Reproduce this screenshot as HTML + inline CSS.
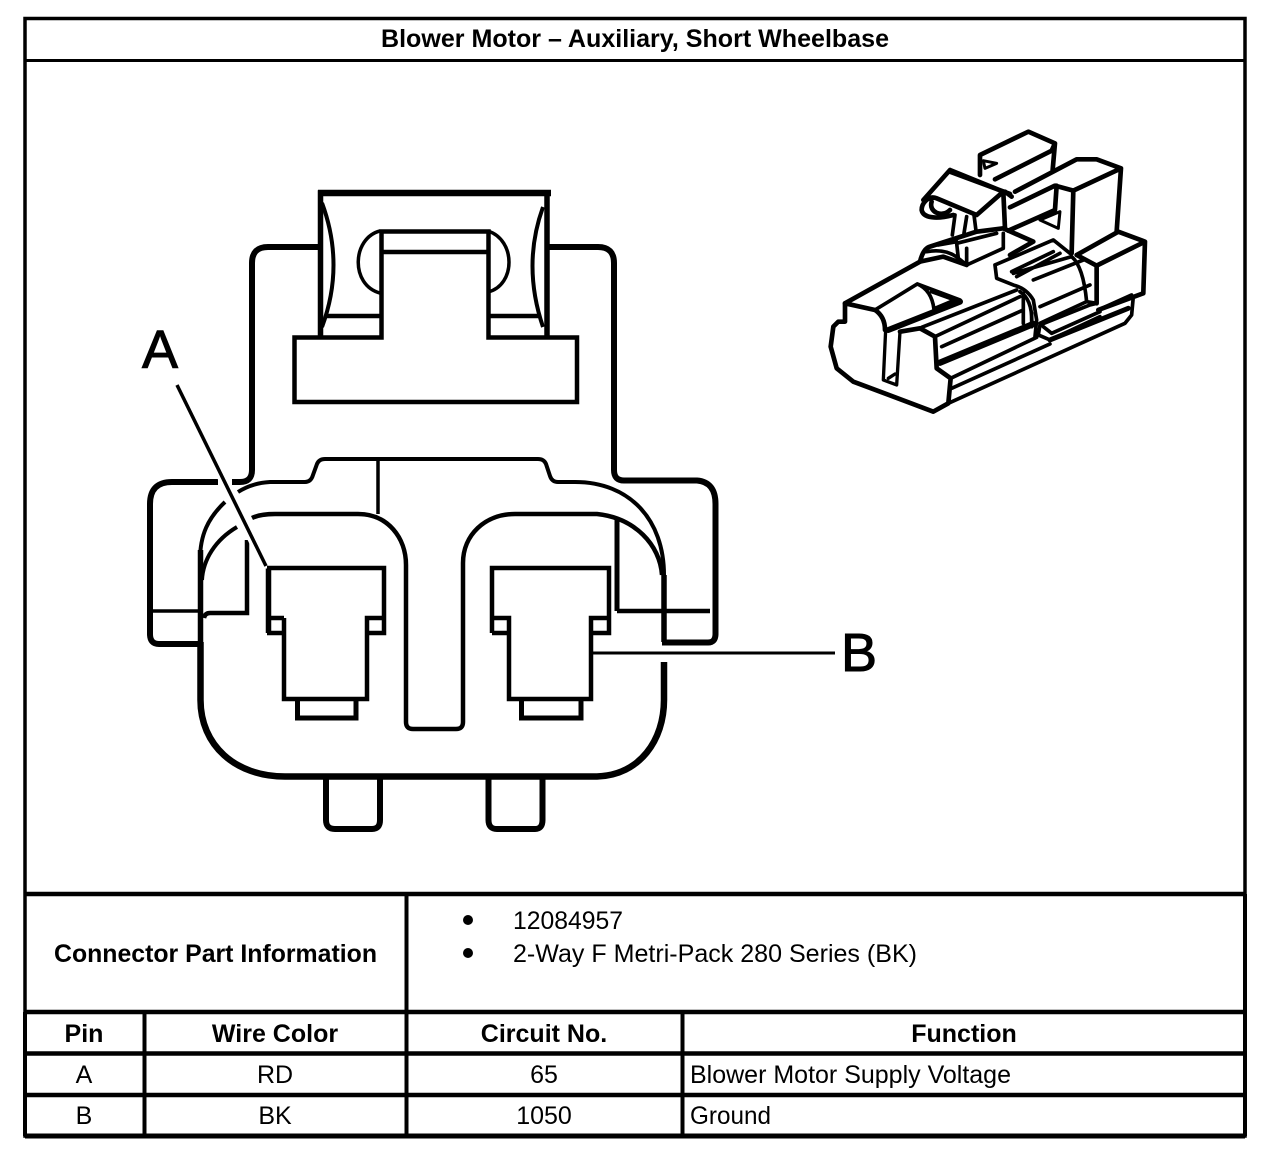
<!DOCTYPE html>
<html><head><meta charset="utf-8"><style>
html,body{margin:0;padding:0;background:#fff}
svg{display:block}
text{font-family:"Liberation Sans",sans-serif;fill:#000}
.b{font-weight:bold}
.m{text-anchor:middle}
</style></head><body>
<svg width="1280" height="1162" viewBox="0 0 1280 1162" xmlns="http://www.w3.org/2000/svg">
<rect width="1280" height="1162" fill="#fff"/>
<g fill="none" stroke="#000">
<!-- frame -->
<path d="M25 1136V18.500H1245V1136Z" stroke-width="3.500"/>
<path d="M25 60.500H1245" stroke-width="3"/>
<path d="M25 894H1245" stroke-width="4.500"/>
<path d="M25 1012H1245M25 1053.500H1245M25 1095H1245" stroke-width="4.500"/>
<path d="M25 1136H1245" stroke-width="5"/>
<path d="M25 1012V1136M1245 894V1136" stroke-width="4"/>
<path d="M406.500 894V1136M144.500 1012V1136M682.500 1012V1136" stroke-width="4"/>

<!-- top tab -->
<path d="M320.500 337V193H547V337" stroke-width="5.500"/>
<path d="M318 193H551" stroke-width="6.500"/>
<path d="M322 203Q345 265 322 327" stroke-width="4"/>
<path d="M543 207Q522 265 543 327" stroke-width="4"/>
<path d="M294.500 337.500H381.500V231.500H488.500V337.500H577V402H294.500Z" stroke-width="4.500"/>
<path d="M381 252H488" stroke-width="4.500"/>
<path d="M380 231C352 238 350 285 380 293" stroke-width="3.500"/>
<path d="M488 231C516 240 516 285 488 292" stroke-width="3.500"/>
<path d="M326 316H381M488 316H541" stroke-width="4.500"/>

<!-- shoulders -->
<path d="M320 247H268Q252 247 252 263V470Q252 482 240 482H232" stroke-width="6"/>
<path d="M218 482H172Q150 482 150 504V634Q150 644 159 644H200" stroke-width="6"/>
<path d="M152 611H200" stroke-width="3.500"/>
<path d="M547 247H598Q614 247 614 263V470Q614 480.500 624 480.500H697Q715.500 482 715.500 504V634Q715.500 642.500 708 642.500H662" stroke-width="6"/>
<path d="M617 611H710" stroke-width="4.500"/>
<path d="M617 518V611" stroke-width="5"/>

<!-- body -->
<path d="M200.500 642V700C200.500 745 235 776.500 285 776.500H597C640 775 664 740 664 700V662" stroke-width="6.500"/>
<path d="M200.500 642V550" stroke-width="5.500"/>
<path d="M664 642V575" stroke-width="5.500"/>
<path d="M238 492Q252 483 270 482H305Q311 482 313 475L317 464Q319 459 325 459H538Q544 459 546 464L550 476Q552 482 558 482H575C630 482 664 520 664 575" stroke-width="4"/>
<path d="M225 502C208 518 200 535 200 560" stroke-width="4"/>
<path d="M237 527C215 540 203 560 202 580" stroke-width="4"/>
<path d="M252 518Q260 514 275 514H358C388 514 406 538 406 565V722Q406 729 413 729H456Q463 729 463 722V563C463 535 485 514 515 514H597C635 518 660 545 662 575" stroke-width="4.500"/>
<path d="M378 459V514" stroke-width="3.500"/>
<path d="M247 540V613H210Q205 613 204 618" stroke-width="4.500"/>

<!-- pin A -->
<path d="M268.500 633V568.500" stroke-width="5.500"/>
<path d="M267 568H384V633H367V618H384M267 618H284M267 633H284M284 618V699H367V633" stroke-width="4.500"/>
<path d="M297.500 699V718H356V699" stroke-width="5"/>
<!-- pin B -->
<path d="M492 633V568H609V633H591V618H609M492 618H509V699H591V618M492 633H509" stroke-width="4.500"/>
<path d="M521.500 699V718H581V699" stroke-width="5"/>

<!-- lower tabs -->
<path d="M326 778V820Q326 829 335 829H372Q380 829 380 820V778" stroke-width="6"/>
<path d="M488.500 778V820Q488.500 829 497 829H535Q542.500 829 542.500 820V778" stroke-width="6"/>

<!-- leaders -->
<path d="M177 385L266 566" stroke="#fff" stroke-width="10"/>
<path d="M177 385L266 566" stroke-width="3.500"/>
<path d="M591 653H835" stroke-width="3"/>

<!-- 3D view -->
<g transform="translate(820 120) scale(.3333)" stroke-width="14" stroke-linejoin="round" stroke-linecap="round">
<path d="M480 165V105L625 35L705 70L698 150M525 178L695 92L705 70"/>
<path d="M490 122L530 130L495 145Z" stroke-width="9"/>
<path d="M585 215L770 118H830L903 145L890 335M760 212L903 145M705 197L760 212L755 400M570 262L705 197M710 197L705 270L565 332"/>
<path d="M660 300L720 275L715 325Z" stroke-width="9"/>
<path d="M770 405L895 335L975 365L970 520L835 570M770 405L830 437L975 365M830 437V550"/>
<path d="M390 150L550 215L470 285L350 235C325 225 305 250 305 270C310 295 350 298 400 285M390 150L310 240M335 245C325 275 365 295 390 270M550 215L555 325M555 215L575 230M390 155L570 222"/>
<path d="M405 285L397 345M440 290L432 340M462 285L468 332" stroke-width="11"/>
<path d="M300 425Q310 385 330 380L470 335L550 325L640 365L570 405"/>
<path d="M320 395C350 390 385 390 415 415L440 435L550 385V340M410 370L530 340M410 370L415 415M440 385V430M355 375L410 365" stroke-width="11"/>
<path d="M75 550L300 425M300 425L370 410L440 435"/>
<path d="M165 570L292 492L420 540M292 492Q335 510 342 568M335 515L405 540L345 565" stroke-width="11"/>
<path d="M205 630L420 545" stroke-width="18"/>
<path d="M75 550V605H55L40 620L32 680L50 745L100 785L340 875L385 850L392 775L350 745L345 650L300 625L240 635M75 550L165 570Q195 590 195 630"/>
<path d="M197 630L190 780L230 795L240 635M205 775L225 762" stroke-width="10"/>
<path d="M305 622L590 510M345 650L600 530M365 680L610 570M610 520V610M635 620V580" stroke-width="11"/>
<path d="M360 728L640 612" stroke-width="19"/>
<path d="M392 775L650 652M395 805L690 672M385 850L915 610L935 585L940 530M835 570L935 525" stroke-width="11"/>
<path d="M690 660L925 565" stroke-width="15"/>
<path d="M525 435L700 360L750 400M525 435L530 475L580 495Q620 505 640 540L650 600L645 650M580 460L755 410Q790 440 800 545M575 455L700 395M590 470L720 400M640 480L790 420M660 560L810 495M600 515Q640 540 635 620M660 610L800 545L830 550" stroke-width="11"/>
<path d="M660 615L810 555L830 550M660 615L655 645L690 660L840 590M670 620L695 640L840 575" stroke-width="11"/>
</g>
</g>

<!-- labels -->
<text x="160" y="368" class="m" font-size="54" stroke="#000" stroke-width="1">A</text>
<text x="859" y="671" class="m" font-size="54" stroke="#000" stroke-width="1">B</text>

<text x="381" y="47" class="b" font-size="25" textLength="508" lengthAdjust="spacingAndGlyphs">Blower Motor – Auxiliary, Short Wheelbase</text>
<text x="54" y="962" class="b" font-size="25" textLength="323" lengthAdjust="spacingAndGlyphs">Connector Part Information</text>
<circle cx="468" cy="920" r="5"/><circle cx="468" cy="953" r="5"/>
<text x="513" y="929" font-size="25" textLength="110" lengthAdjust="spacingAndGlyphs">12084957</text>
<text x="513" y="962" font-size="25" textLength="404" lengthAdjust="spacingAndGlyphs">2-Way F Metri-Pack 280 Series (BK)</text>
<text x="84" y="1042" class="b m" font-size="25">Pin</text>
<text x="275" y="1042" class="b m" font-size="25">Wire Color</text>
<text x="544" y="1042" class="b m" font-size="25">Circuit No.</text>
<text x="964" y="1042" class="b m" font-size="25">Function</text>
<text x="84" y="1083" class="m" font-size="25">A</text>
<text x="275" y="1083" class="m" font-size="25">RD</text>
<text x="544" y="1083" class="m" font-size="25">65</text>
<text x="690" y="1083" font-size="25" textLength="321" lengthAdjust="spacingAndGlyphs">Blower Motor Supply Voltage</text>
<text x="84" y="1124" class="m" font-size="25">B</text>
<text x="275" y="1124" class="m" font-size="25">BK</text>
<text x="544" y="1124" class="m" font-size="25">1050</text>
<text x="690" y="1124" font-size="25" textLength="81" lengthAdjust="spacingAndGlyphs">Ground</text>
</svg>
</body></html>
